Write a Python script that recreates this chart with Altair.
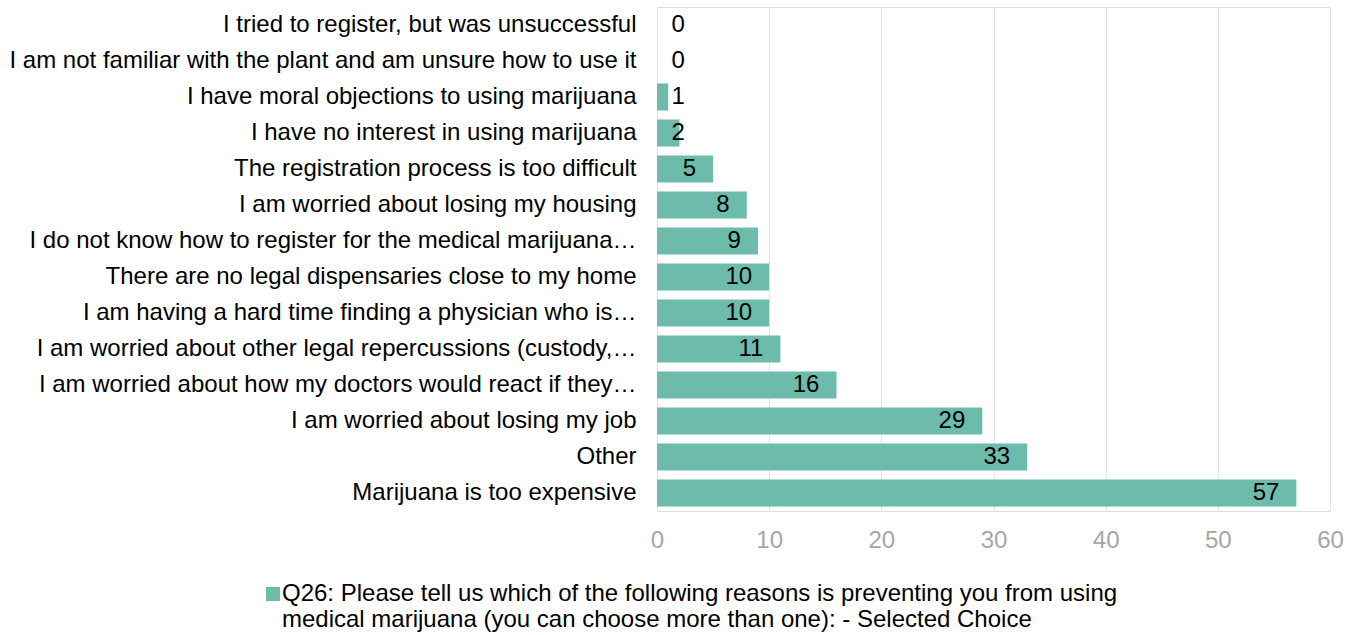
import altair as alt
import pandas as pd

categories = [
    "I tried to register, but was unsuccessful",
    "I am not familiar with the plant and am unsure how to use it",
    "I have moral objections to using marijuana",
    "I have no interest in using marijuana",
    "The registration process is too difficult",
    "I am worried about losing my housing",
    "I do not know how to register for the medical marijuana…",
    "There are no legal dispensaries close to my home",
    "I am having a hard time finding a physician who is…",
    "I am worried about other legal repercussions (custody,…",
    "I am worried about how my doctors would react if they…",
    "I am worried about losing my job",
    "Other",
    "Marijuana is too expensive",
]
values = [0, 0, 1, 2, 5, 8, 9, 10, 10, 11, 16, 29, 33, 57]
series = "Q26: Please tell us which of the following reasons is preventing you from using medical marijuana (you can choose more than one): - Selected Choice"
legend_lines = [
    "Q26: Please tell us which of the following reasons is preventing you from using",
    "medical marijuana (you can choose more than one): - Selected Choice",
]
x_ticks = [0, 10, 20, 30, 40, 50, 60]

FONT = "Liberation Sans"
FS = 24
BAR = "#6DBBAA"
GRID = "#e4e4e4"

df = pd.DataFrame({"reason": categories, "value": values, "series": series})

y_enc = alt.Y(
    "reason:N",
    sort=None,
    title=None,
    scale=alt.Scale(paddingInner=0.25, paddingOuter=0.125),
    axis=alt.Axis(
        labelFont=FONT, labelFontSize=FS, labelColor="#000000",
        labelPadding=21, labelLimit=800, ticks=False,
        domainColor=GRID, grid=False,
    ),
)

x_scale = alt.Scale(domain=[0, 60], nice=False)

bars = alt.Chart(df).mark_bar(color=BAR).encode(
    y=y_enc,
    x=alt.X(
        "value:Q",
        title=None,
        scale=x_scale,
        axis=alt.Axis(
            values=x_ticks, labelFont=FONT, labelFontSize=FS,
            labelColor="#a6a6a6", labelPadding=17, labelFlush=False,
            domain=False, ticks=False, gridColor=GRID, gridWidth=1,
        ),
    ),
    color=alt.Color(
        "series:N",
        scale=alt.Scale(domain=[series], range=[BAR]),
        legend=alt.Legend(
            title=None, orient="none", legendX=-402, legendY=582,
            symbolType="M-0.14,-2H1.86V0H-0.14Z", symbolSize=196,
            symbolStrokeWidth=0,
            labelFont=FONT, labelFontSize=FS, labelColor="#000000",
            labelLimit=1000, labelOffset=3, labelBaseline="alphabetic",
            labelExpr="['" + legend_lines[0] + "', '" + legend_lines[1] + "']",
        ),
    ),
)

labels = alt.Chart(df).transform_calculate(
    lx="max(datum.value, 4)"
).mark_text(
    font=FONT, fontSize=FS, color="#000000", align="right", dx=-17, baseline="middle"
).encode(
    y=alt.Y("reason:N", sort=None),
    x=alt.X("lx:Q", scale=x_scale),
    text="value:Q",
)

chart = alt.layer(bars, labels).properties(
    width=673, height=504,
    padding={"left": 9, "top": 7, "right": 5, "bottom": 5},
).configure_view(stroke=None).configure(background="white")

chart.save("out.html", embed_options={"renderer": "svg", "actions": False})
